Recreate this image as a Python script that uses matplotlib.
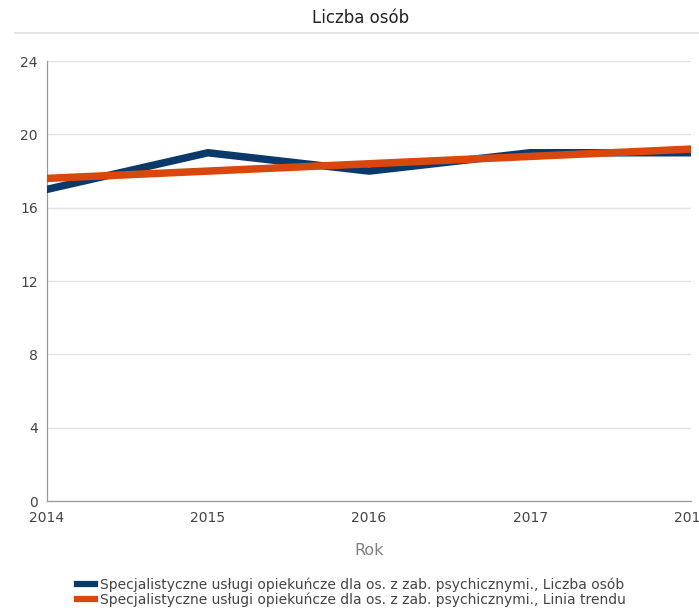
import matplotlib
matplotlib.use("Agg")
import matplotlib.pyplot as plt
from matplotlib.lines import Line2D

years = [2014, 2015, 2016, 2017, 2018]
liczba_osob = [17, 19, 18, 19, 19]
linia_trendu = [17.6, 18.0, 18.4, 18.8, 19.2]
y_ticks = [0, 4, 8, 12, 16, 20, 24]
series_names = [
    "Specjalistyczne usługi opiekuńcze dla os. z zab. psychicznymi., Liczba osób",
    "Specjalistyczne usługi opiekuńcze dla os. z zab. psychicznymi., Linia trendu",
]

blue = "#0b3a6a"
orange = "#d8480e"

fig = plt.figure(figsize=(6.99, 6.11), dpi=100)
ax = fig.add_axes([0.067, 0.18, 0.922, 0.72])

ax.plot(years, liczba_osob, color=blue, lw=5.4, zorder=3)
ax.plot(years, linia_trendu, color=orange, lw=5.4, zorder=4)

ax.set_xlim(2014, 2018)
ax.set_ylim(0, 24)
ax.set_yticks(y_ticks)
ax.set_xticks(years)
ax.grid(axis="y", color="#e2e2e2", lw=1)
ax.set_axisbelow(True)
for s in ["top", "right"]:
    ax.spines[s].set_visible(False)
for s in ["left", "bottom"]:
    ax.spines[s].set_color("#9a9a9a")
    ax.spines[s].set_linewidth(0.9)
ax.tick_params(axis="y", length=0, labelsize=10, labelcolor="#444444", pad=6.5)
ax.tick_params(axis="x", length=0, labelsize=10, labelcolor="#444444", pad=7)
ax.set_xlabel("Rok", fontsize=11.5, color="#808080", labelpad=13)

fig.text(0.516, 0.970, "Liczba osób", ha="center", va="center", fontsize=12, color="#222222")
fig.add_artist(Line2D([0.021, 1.0], [0.946, 0.946], color="#e0e0e0", lw=1.2))

handles = [Line2D([], [], color=blue, lw=4.5), Line2D([], [], color=orange, lw=4.5)]
fig.legend(handles, series_names, loc="upper left", bbox_to_anchor=(0.1, 0.066),
           frameon=False, fontsize=10, handlelength=1.3, handletextpad=0.35,
           labelspacing=0.05, borderpad=0, labelcolor="#444444")

fig.savefig("out.png", dpi=100)
